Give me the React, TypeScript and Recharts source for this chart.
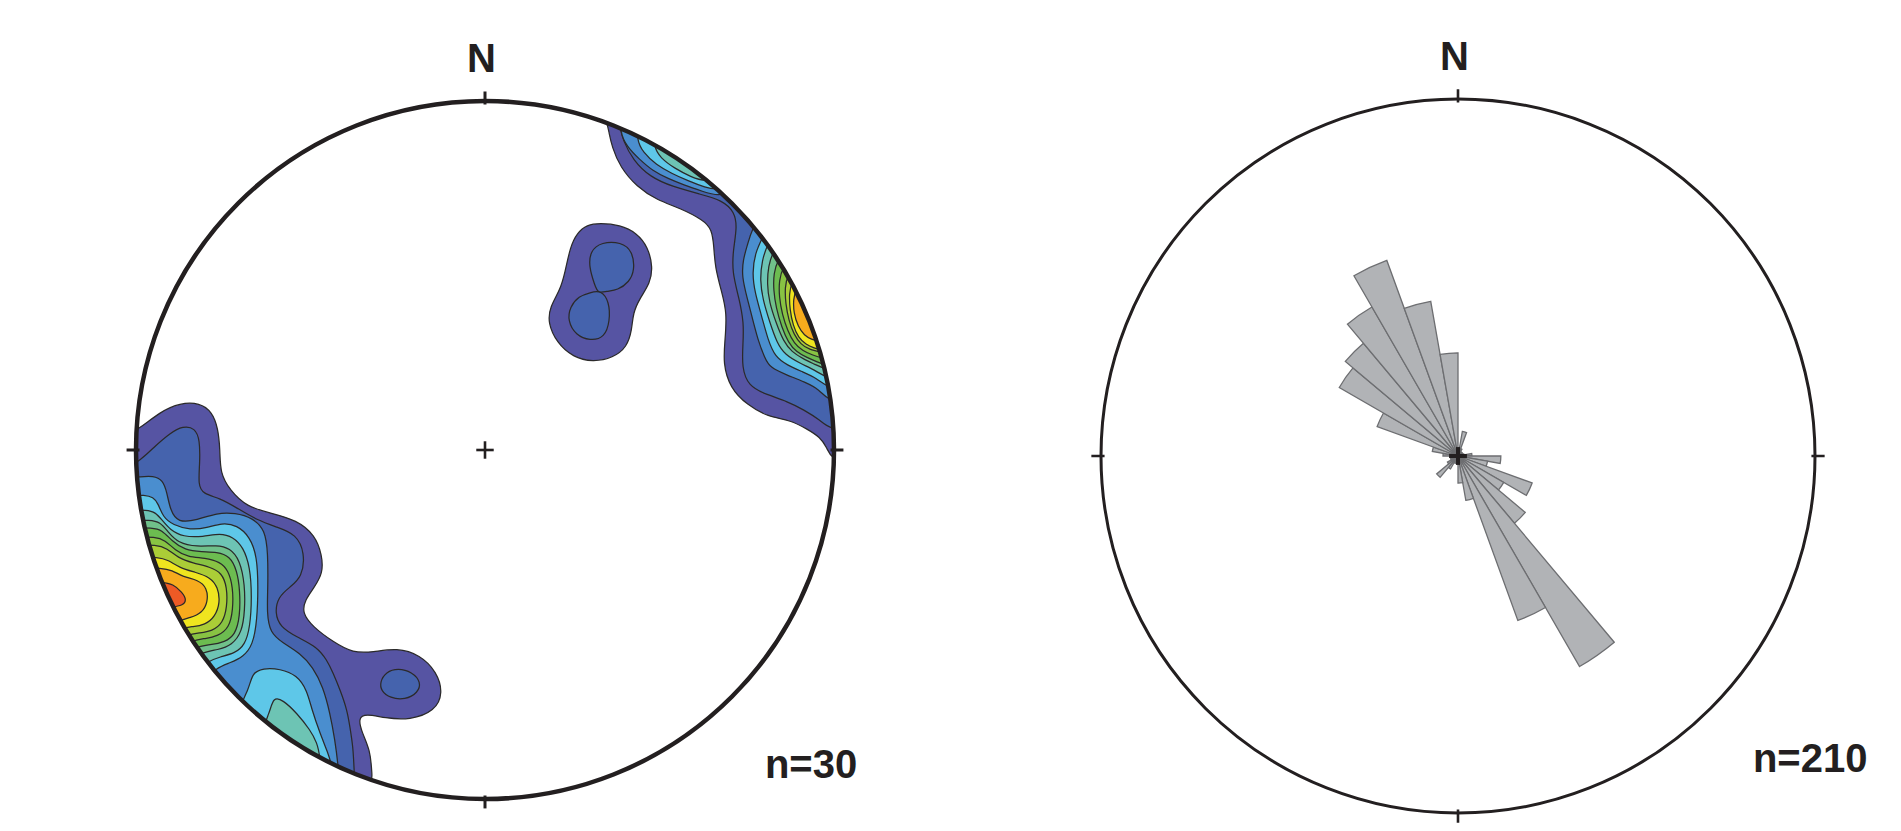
import React from 'react';
import {
  ScatterChart, Scatter, XAxis, YAxis, Curve,
  RadialBarChart, RadialBar, PolarAngleAxis, PolarRadiusAxis,
} from 'recharts';

type P = [number, number];

// ---------------- Stereonet contour data (x, y in % of primitive radius, y up) ----------------
const swOuter: P[] = [[-104.6,2.9],[-98.8,6.3],[-93.1,10.9],[-87.4,13.5],[-81.7,13.5],[-78.2,10.9],[-76.5,6.3],[-75.9,0],[-75.9,-6.6],[-73.1,-11.5],[-68.2,-16.3],[-61.6,-18.0],[-53.9,-20.1],[-48.7,-24.4],[-46.7,-30.1],[-46.4,-35.2],[-49.0,-39.5],[-51.6,-43.0],[-52.4,-46.7],[-49.3,-50.7],[-43.5,-55.0],[-37.8,-58.2],[-32.1,-57.9],[-25.2,-56.7],[-18.6,-58.7],[-13.8,-63.6],[-12.0,-69.6],[-14.3,-74.8],[-21.5,-77.4],[-28.7,-76.8],[-34.1,-75.6],[-36.4,-76.8],[-35.2,-81.1],[-32.9,-86.0],[-32.4,-92.3],[-32.1,-98.8],[-55,-100],[-85,-80],[-108,-45],[-112,0]];
const neOuter: P[] = [[32.9,98.8],[35.0,93.7],[35.5,91.1],[36.4,86.8],[38.7,81.1],[43.5,75.4],[49.3,71.6],[55.9,69.3],[62.5,65.9],[65.0,63.3],[65.6,58.2],[65.9,52.4],[67.9,45.0],[69.3,39.3],[68.8,31.5],[68.2,24.9],[70.2,17.8],[75.1,12.9],[81.1,9.5],[87.4,8.6],[92.3,6.0],[96.0,3.7],[98.0,0.6],[99.1,-2.3],[104,-4],[112,10],[108,45],[95,72],[75,92],[50,106]];
const neBlobOuter: P[] = [[32.9,65.0],[38.7,64.5],[43.5,62.2],[46.7,58.2],[48.1,52.4],[47.3,47.8],[44.4,43.5],[42.4,39.3],[42.1,34.4],[40.7,29.5],[36.7,26.4],[30.9,25.2],[25.2,26.6],[20.6,30.7],[18.0,36.4],[18.6,41.0],[21.5,45.8],[22.9,50.7],[24.4,58.2],[26.4,62.2],[29.2,64.5]];

const swBand2: P[] = [[-103.1,-5.2],[-98.6,-2.9],[-95.1,0.6],[-90.2,4.9],[-86.5,6.9],[-83.1,6.3],[-81.7,2.9],[-81.7,-3.7],[-82.2,-10.0],[-80.8,-12.6],[-75.9,-13.8],[-71.1,-16.6],[-65.3,-20.1],[-59.6,-22.1],[-54.1,-24.1],[-51.6,-29.5],[-52.4,-36.4],[-55.9,-39.3],[-59.3,-42.1],[-60.2,-46.7],[-58.7,-50.7],[-53.9,-53.6],[-48.1,-56.4],[-45.3,-60.2],[-43.5,-63.9],[-41.5,-68.8],[-39.5,-74.5],[-38.7,-79.4],[-37.8,-85.1],[-37.5,-91.7],[-37.2,-98.0],[-65,-95],[-90,-70],[-108,-40],[-110,-10]];
const swSpot2: P[] = [[-30.1,-66.5],[-28.4,-63.6],[-24.9,-62.5],[-20.9,-63.6],[-18.3,-66.5],[-19.2,-69.6],[-22.9,-71.6],[-27.2,-71.1],[-29.8,-69.0]];
const neBand2: P[] = [[37.8,97.4],[38.7,92.3],[39.5,88.8],[42.4,83.1],[47.3,78.2],[53.9,75.4],[61.6,73.3],[67.9,71.6],[71.6,68.2],[72.2,63.6],[71.1,57.3],[70.8,51.0],[72.8,43.5],[74.2,36.4],[73.9,30.1],[73.6,23.8],[75.4,18.3],[80.8,15.8],[86.5,14.0],[91.4,11.5],[96.0,8.6],[98.6,6.0],[105,6],[112,20],[108,48],[95,74],[75,94],[52,106]];
const neBlobUpper2: P[] = [[30.1,57.0],[33.4,59.6],[39.0,59.6],[42.3,57.0],[42.9,51.5],[41.3,48.1],[38.0,45.8],[34.8,45.5],[32.4,44.8],[31.4,47.4],[29.8,52.4]];
const neBlobLower2: P[] = [[30.1,45.1],[33.3,45.8],[35.6,42.5],[35.8,37.0],[34.3,32.2],[30.1,31.3],[26.0,32.9],[23.7,37.0],[24.3,41.0],[26.9,44.1]];

const swBand3: P[] = [[-103.1,-8.0],[-98.8,-7.7],[-95.1,-7.4],[-92.3,-8.6],[-91.1,-12.3],[-90.2,-17.2],[-88.0,-20.9],[-82.5,-20.1],[-76.8,-18.0],[-71.6,-18.0],[-66.5,-19.5],[-63.0,-22.9],[-62.2,-29.5],[-62.2,-39.3],[-62.5,-46.7],[-61.6,-52.4],[-57.9,-55.3],[-53.0,-58.2],[-49.3,-62.2],[-46.4,-67.9],[-44.4,-75.4],[-43.0,-83.1],[-42.1,-90.2],[-41.5,-97.4],[-70,-92],[-95,-62],[-108,-30]];
const swBand4: P[] = [[-102.3,-12.9],[-97.4,-12.9],[-95.1,-13.5],[-93.7,-15.2],[-92.3,-19.2],[-89.4,-21.5],[-84.5,-22.9],[-79.6,-22.3],[-75.4,-20.9],[-71.1,-21.5],[-67.3,-24.9],[-65.3,-30.7],[-65.0,-39.3],[-65.3,-48.7],[-66.5,-55.9],[-69.3,-59.3],[-73.1,-61.0],[-77.1,-62.5],[-80.2,-65.9],[-95,-45],[-105,-25]];
const swLobe4: P[] = [[-66.8,-63.9],[-63.6,-62.5],[-58.7,-62.7],[-53.9,-64.5],[-51.0,-68.8],[-49.6,-74.5],[-47.3,-81.1],[-45.0,-86.8],[-43.8,-90.5],[-43.0,-97.4],[-55.9,-97.4],[-67.3,-87.4],[-71.6,-75.1],[-67.6,-68.8]];
const swBand5: P[] = [[-102.3,-17.2],[-96.8,-17.2],[-94.5,-17.8],[-92.5,-20.1],[-90.2,-22.9],[-86.5,-24.9],[-80.8,-24.9],[-75.9,-23.8],[-72.2,-24.9],[-69.3,-27.8],[-67.3,-33.5],[-66.8,-42.1],[-67.3,-50.7],[-68.8,-55.9],[-71.6,-58.2],[-75.9,-59.3],[-79.6,-60.5],[-86,-65.5],[-100,-55],[-110,-35],[-110,-20]];
const swLobe5: P[] = [[-60.7,-70.8],[-57.9,-71.6],[-53.9,-75.4],[-50.1,-80.2],[-48.1,-83.9],[-47.3,-87.7],[-46.7,-95.1],[-57.3,-93.1],[-65.0,-82.5],[-61.6,-75.1]];
const swBand6: P[] = [[-101.7,-20.1],[-96.0,-20.1],[-93.1,-20.6],[-90.8,-23.5],[-88.0,-26.6],[-82.5,-27.8],[-76.8,-27.2],[-73.1,-28.1],[-70.2,-31.5],[-68.8,-38.7],[-68.8,-45.8],[-69.6,-52.1],[-72.5,-55.9],[-76.5,-57.3],[-81.4,-57.9],[-88,-62.5],[-100,-52],[-110,-35],[-110,-22]];
const swBand7: P[] = [[-101.1,-22.3],[-95.4,-22.3],[-92.5,-22.9],[-89.7,-26.1],[-86.0,-28.7],[-81.1,-29.2],[-76.8,-29.2],[-73.1,-30.4],[-71.1,-34.4],[-70.2,-40.1],[-70.2,-47.8],[-71.6,-53.0],[-74.5,-55.0],[-78.8,-55.9],[-82.8,-56.2],[-89.5,-61],[-100,-50],[-110,-35],[-110,-24]];
const swBand8: P[] = [[-100.3,-24.9],[-94.5,-24.9],[-91.7,-25.8],[-88.8,-28.7],[-85.1,-30.7],[-80.2,-30.9],[-75.9,-32.1],[-73.6,-34.4],[-72.2,-39.3],[-72.2,-45.8],[-73.3,-51.0],[-76.5,-53.3],[-80.2,-54.1],[-83.9,-54.4],[-90.5,-59],[-100,-48],[-110,-36],[-110,-26]];
const swBand9: P[] = [[-100,-27.2],[-94.3,-27.2],[-91.1,-28.1],[-88.0,-30.9],[-83.7,-32.4],[-78.8,-33.5],[-75.4,-35.2],[-73.9,-39.3],[-73.9,-45.0],[-75.1,-49.6],[-78.2,-51.9],[-81.7,-52.4],[-85.1,-52.7],[-92,-57],[-102,-46],[-110,-36],[-109,-28]];
const swBand10: P[] = [[-99.4,-30.7],[-93.7,-30.7],[-90.8,-31.5],[-87.4,-33.8],[-83.1,-35.0],[-78.8,-36.4],[-76.5,-39.3],[-75.9,-43.8],[-77.4,-47.8],[-80.2,-50.1],[-83.9,-50.7],[-86.2,-50.7],[-93,-55],[-103,-45],[-108,-36],[-106,-31]];
const swBand11: P[] = [[-98.3,-33.8],[-92.8,-33.8],[-89.7,-34.4],[-86.5,-36.4],[-82.2,-37.2],[-79.6,-39.5],[-79.4,-43.6],[-81.1,-46.7],[-84.5,-48.1],[-87.4,-48.7],[-94,-52.5],[-104,-44],[-104,-35]];
const swBand12: P[] = [[-97.4,-37.8],[-92.5,-37.8],[-89.4,-38.4],[-86.8,-40.7],[-85.4,-43.0],[-86.8,-44.7],[-89.4,-44.7],[-96,-48],[-102,-42]];

// NE bands as [bearing deg clockwise from N, radius %]
const neLens3: P[] = [[22,104],[23,99],[25,96],[28,94.3],[31,93.3],[34,93.8],[37,95],[40,96.8],[43,99],[44,105],[33,108]];
const neLens4: P[] = [[25,104],[26,99],[28,96.5],[31,95.3],[34,95.6],[37,96.6],[40,98.2],[42,100],[43,105],[33,108]];
const neLens5: P[] = [[28,104],[29,99.5],[31,97.6],[34,97.3],[37,98],[39.5,99.5],[41,104],[34,107]];
const nePeak3: P[] = [[50.5,99],[51.8,95.9],[53.6,91.8],[56,88.8],[59.7,86.9],[63.5,85.5],[68.1,84.3],[71.8,84.4],[73.9,85],[76.1,89.2],[78,93.7],[79.8,97.5],[81.7,99],[83,106],[66,109],[49,106]];
const nePeak4: P[] = [[52.6,100],[53.9,95.8],[56.5,91.8],[59.8,89.5],[64.4,88],[68.8,87],[72.2,87.3],[74.3,89.9],[76.2,93.8],[77.8,97.3],[79.6,99.6],[81,106],[66,109],[51,106]];
const nePeak5: P[] = [[54,99.9],[55.6,96.2],[58.3,92.6],[61.6,90.5],[66,89.4],[69.9,89.1],[72.4,90.2],[74.6,93.6],[76.4,97.3],[77.9,99.6],[79.5,106],[66,109],[52.5,106]];
const nePeak6: P[] = [[55.5,100],[57,96.8],[59.5,93.8],[62.5,91.8],[66.5,91],[70,91],[72.3,92.3],[74,94.8],[75.5,97.8],[76.6,100],[78,106],[66,109],[54,106]];
const nePeak7: P[] = [[57,100],[58.5,97],[61,94.5],[64,92.8],[67.5,92],[70.5,92.2],[72.5,93.5],[74,96],[75.2,98.6],[76,100.5],[77.5,106],[66,109],[55.5,106]];
const nePeak8: P[] = [[58.5,100],[60,97.3],[62.5,95],[65.5,93.6],[68.5,93.2],[71,93.7],[72.6,95.3],[73.9,97.8],[74.8,100.3],[76.5,106],[66,109],[57,106]];
const nePeak9: P[] = [[60,100],[61.5,97.8],[64,95.8],[67,94.6],[69.5,94.5],[71.5,95.4],[72.8,97.3],[73.8,100.3],[75.5,106],[66,109],[58.5,106]];
const nePeak10: P[] = [[61.3,100],[62.8,98],[65.2,96.2],[68,95.2],[70.3,95.4],[71.8,96.8],[72.8,98.8],[73.5,100.5],[74.5,106],[66,109],[60,106]];
const nePeak11: P[] = [[62.5,100.3],[64,98.3],[66,96.8],[68.5,96.4],[70.3,97.2],[71.3,98.8],[72,100.5],[73,106],[67,108],[61,106]];

const xyContours: { level: number; pts: P[] }[] = [
  { level: 1, pts: swOuter }, { level: 1, pts: neOuter }, { level: 1, pts: neBlobOuter },
  { level: 2, pts: swBand2 }, { level: 2, pts: swSpot2 }, { level: 2, pts: neBand2 },
  { level: 2, pts: neBlobUpper2 }, { level: 2, pts: neBlobLower2 },
  { level: 3, pts: swBand3 },
  { level: 4, pts: swBand4 }, { level: 4, pts: swLobe4 },
  { level: 5, pts: swBand5 }, { level: 5, pts: swLobe5 },
  { level: 6, pts: swBand6 }, { level: 7, pts: swBand7 }, { level: 8, pts: swBand8 },
  { level: 9, pts: swBand9 }, { level: 10, pts: swBand10 }, { level: 11, pts: swBand11 },
  { level: 12, pts: swBand12 },
];
const polarContours: { level: number; pts: P[] }[] = [
  { level: 3, pts: neLens3 }, { level: 4, pts: neLens4 }, { level: 5, pts: neLens5 },
  { level: 3, pts: nePeak3 }, { level: 4, pts: nePeak4 }, { level: 5, pts: nePeak5 },
  { level: 6, pts: nePeak6 }, { level: 7, pts: nePeak7 }, { level: 8, pts: nePeak8 },
  { level: 9, pts: nePeak9 }, { level: 10, pts: nePeak10 }, { level: 11, pts: nePeak11 },
];

// ---------------- Rose diagram data (10° bins, length in % of primitive radius) ----------------
const roseBins = ['0','10','20','30','40','50','60','70','80','90','100','110','120','130','140','150','160','170','180','190','200','210','220','230','240','250','260','270','280','290','300','310','320','330','340','350'];
const roseLengths = [2.2,7.0,2.2,1.4,1.4,1.4,1.4,1.7,3.9,12.0,8.4,22.1,14.8,24.6,68.1,49.0,12.6,7.6,1.7,1.7,2.2,4.2,7.8,3.4,2.2,1.7,2.2,4.2,7.3,24.1,38.4,41.2,48.2,58.3,44.0,28.9];

// frame marks (unit: % of radius)
const tickSegments: [number, number, number, number][] = [[0,99,0,102.7],[99,0,102.7,0],[0,-99,0,-102.7],[-99,0,-102.7,0]];
const unitRef = [{ x: 0, y: 0 }, { x: 100, y: 0 }];

// ---------------- styles ----------------
const levelColors = ['#5654a3','#4563ad','#4a8ecf','#5ec7e8','#6dc4b4','#70c08a','#6cbc50','#88c343','#abcd37','#efe51f','#f7ab1d','#ee5a25'];
const INK = '#231f20';
const FONT = '"Liberation Sans", Arial, Helvetica, sans-serif';
const H = 831;

const toXY = (pts: P[]) => pts.map(([x, y]) => ({ x, y }));
const polarToXY = (pts: P[]) => pts.map(([b, r]) => ({ x: r * Math.sin((b * Math.PI) / 180), y: r * Math.cos((b * Math.PI) / 180) }));

const contours = [
  ...xyContours.map((c) => ({ level: c.level, data: toXY(c.pts) })),
  ...polarContours.map((c) => ({ level: c.level, data: polarToXY(c.pts) })),
].sort((a, b) => a.level - b.level);

const roseData = roseBins.map((bin, i) => ({ bin, len: roseLengths[i] }));

const NoDot = () => <g />;

type Panel = { frameLeft: number; frameWidth: number; cx: number; cy: number; r: number; domX: [number, number]; domY: [number, number] };
const leftPanel: Panel = { frameLeft: 0, frameWidth: 940, cx: 485, cy: 450, r: 349, domX: [-125, 125], domY: [-108, 125] };
const rightPanel: Panel = { frameLeft: 1000, frameWidth: 901, cx: 1458, cy: 456, r: 357, domX: [-122, 122], domY: [-104, 125] };

type Label = { text: string; x: number; y: number; anchor: 'start' | 'middle' | 'end' };

function Overlay({ panel, clipId, withContours, circleWidth, tickWidth, crossHalf, crossWidth, labels }: {
  panel: Panel; clipId: string; withContours: boolean; circleWidth: number; tickWidth: number;
  crossHalf: number; crossWidth: number; labels: Label[];
}) {
  const s = panel.r / 100;
  const margin = {
    left: panel.cx - panel.frameLeft + panel.domX[0] * s,
    right: panel.frameLeft + panel.frameWidth - (panel.cx + panel.domX[1] * s),
    top: panel.cy - panel.domY[1] * s,
    bottom: H - (panel.cy - panel.domY[0] * s),
  };
  const clipLine = (p: any) => {
    const [c, e] = p.points;
    return (
      <defs>
        <clipPath id={clipId}>
          <circle cx={c.x} cy={c.y} r={Math.abs(e.x - c.x)} />
        </clipPath>
      </defs>
    );
  };
  const circleLine = (p: any) => {
    const [c, e] = p.points;
    return <circle cx={c.x} cy={c.y} r={Math.abs(e.x - c.x)} fill="none" stroke={INK} strokeWidth={circleWidth} />;
  };
  const fillLine = (color: string) => (p: any) => (
    <g clipPath={`url(#${clipId})`}>
      <Curve points={p.points} type="basisClosed" fill={color} stroke="#2b2a2a" strokeWidth={1.25} />
    </g>
  );
  const crossSegs: [number, number, number, number][] = [[-crossHalf, 0, crossHalf, 0], [0, -crossHalf, 0, crossHalf]];
  return (
    <div style={{ position: 'absolute', left: panel.frameLeft, top: 0 }}>
      <ScatterChart width={panel.frameWidth} height={H} margin={margin}>
        <XAxis type="number" dataKey="x" domain={panel.domX} hide allowDataOverflow />
        <YAxis type="number" dataKey="y" domain={panel.domY} hide allowDataOverflow />
        <Scatter data={unitRef} shape={NoDot} line={clipLine} isAnimationActive={false} />
        {withContours && contours.map((c, i) => (
          <Scatter key={`c${i}`} data={c.data} shape={NoDot} line={fillLine(levelColors[c.level - 1])} isAnimationActive={false} />
        ))}
        <Scatter data={unitRef} shape={NoDot} line={circleLine} isAnimationActive={false} />
        {tickSegments.map((t, i) => (
          <Scatter key={`t${i}`} data={[{ x: t[0], y: t[1] }, { x: t[2], y: t[3] }]} shape={NoDot}
            line={{ stroke: INK, strokeWidth: tickWidth }} isAnimationActive={false} />
        ))}
        {crossSegs.map((t, i) => (
          <Scatter key={`x${i}`} data={[{ x: t[0], y: t[1] }, { x: t[2], y: t[3] }]} shape={NoDot}
            line={{ stroke: INK, strokeWidth: crossWidth }} isAnimationActive={false} />
        ))}
        {labels.map((l, i) => (
          <Scatter key={`l${i}`} data={[{ x: l.x, y: l.y }]} isAnimationActive={false}
            shape={(p: any) => (
              <text x={p.cx} y={p.cy} textAnchor={l.anchor} fontFamily={FONT} fontWeight={700} fontSize={40} fill={INK}>{l.text}</text>
            )} />
        ))}
      </ScatterChart>
    </div>
  );
}

function Rose() {
  const p = rightPanel;
  return (
    <div style={{ position: 'absolute', left: p.frameLeft, top: 0 }}>
      <RadialBarChart width={p.frameWidth} height={H} cx={p.cx - p.frameLeft} cy={p.cy} innerRadius={0} outerRadius={p.r}
        startAngle={80} endAngle={-280} data={roseData} layout="centric" barCategoryGap={0} barGap={0}
        margin={{ top: 0, right: 0, bottom: 0, left: 0 }}>
        <PolarAngleAxis type="category" dataKey="bin" tick={false} tickLine={false} axisLine={false} />
        <PolarRadiusAxis type="number" domain={[0, 100]} tick={false} axisLine={false} />
        <RadialBar dataKey="len" fill="#b1b3b6" stroke="#6d6e71" strokeWidth={1.3} isAnimationActive={false} />
      </RadialBarChart>
    </div>
  );
}

export default function App() {
  return (
    <div style={{ position: 'absolute', left: 0, top: 0, width: 1901, height: H, background: '#ffffff', overflow: 'hidden' }}>
      <Overlay panel={leftPanel} clipId="stereoClipL" withContours circleWidth={4.5} tickWidth={3} crossHalf={2.5} crossWidth={2.6}
        labels={[{ text: 'N', x: -1, y: 108.4, anchor: 'middle' }, { text: 'n=30', x: 80.2, y: -94, anchor: 'start' }]} />
      <Rose />
      <Overlay panel={rightPanel} clipId="stereoClipR" withContours={false} circleWidth={3} tickWidth={2.6} crossHalf={2.5} crossWidth={4}
        labels={[{ text: 'N', x: -1, y: 108.1, anchor: 'middle' }, { text: 'n=210', x: 82.6, y: -88.5, anchor: 'start' }]} />
    </div>
  );
}
